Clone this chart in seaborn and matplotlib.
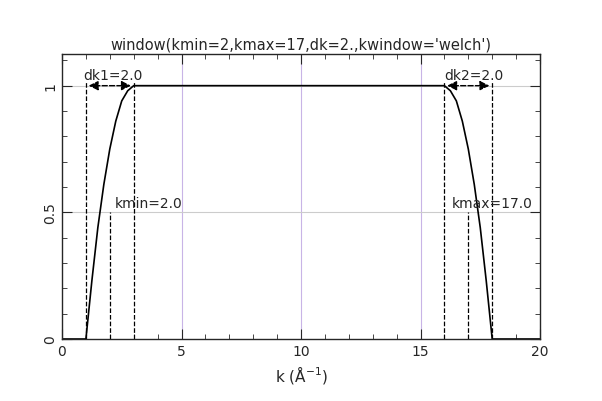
import matplotlib
matplotlib.use("Agg")
import matplotlib.pyplot as plt
import seaborn as sns
from matplotlib.ticker import MultipleLocator

sns.set_style("ticks")
plt.rcParams['font.family'] = ['DejaVu Sans']

k = [0, 1.0, 1.25, 1.5, 1.75, 2.0, 2.25, 2.5, 2.75, 3.0, 16.0, 16.25, 16.5, 16.75, 17.0, 17.25, 17.5, 17.75, 18.0, 20]
w = [0, 0.0, 0.23, 0.44, 0.61, 0.75, 0.86, 0.94, 0.98, 1.0, 1.0, 0.98, 0.94, 0.86, 0.75, 0.61, 0.44, 0.23, 0.0, 0]
edges = [1, 3, 16, 18]
centers = [2, 17]

fig = plt.figure(figsize=(6.02, 4.02), dpi=100)
ax = fig.add_axes([62/602, 62/402, 478/602, 285/402])
for x in [5, 10, 15]:
    ax.axvline(x, color='#c8b4e6', lw=0.8, zorder=0)
for y in [0.5, 1.0]:
    ax.axhline(y, color='#cccccc', lw=0.8, zorder=0)
sns.lineplot(x=k, y=w, ax=ax, color='black', lw=1.2, sort=False)
for x in edges:
    ax.plot([x, x], [0, 1.02], 'k--', lw=0.9)
for x in centers:
    ax.plot([x, x], [0, 0.5], 'k--', lw=0.9)
for a, b in [(1, 3), (16, 18)]:
    ax.annotate('', xy=(a, 1), xytext=(b, 1),
                arrowprops=dict(arrowstyle='<|-|>', ls='--', color='black', lw=1, mutation_scale=14))
ax.text(0.9, 1.025, 'dk1=2.0', fontsize=10)
ax.text(16.0, 1.025, 'dk2=2.0', fontsize=10)
ax.text(2.2, 0.52, 'kmin=2.0', fontsize=10)
ax.text(16.3, 0.52, 'kmax=17.0', fontsize=10)
ax.set_xlim(0, 20)
ax.set_ylim(0, 1.125)
ax.set_xticks([0, 5, 10, 15, 20])
ax.set_yticks([0, 0.5, 1])
ax.set_yticklabels(['0', '0.5', '1'], rotation=90, va='center')
ax.xaxis.set_minor_locator(MultipleLocator(1))
ax.yaxis.set_minor_locator(MultipleLocator(0.1))
ax.tick_params(which='both', direction='in', top=True, right=True)
ax.tick_params(which='major', length=7)
ax.tick_params(which='minor', length=3.5)
for s in ax.spines.values():
    s.set_linewidth(1)
ax.set_xlabel('k (Å$^{-1}$)', fontsize=11)
ax.set_title("window(kmin=2,kmax=17,dk=2.,kwindow='welch')", fontsize=10.5, pad=4)
fig.savefig('out.png', dpi=100)
